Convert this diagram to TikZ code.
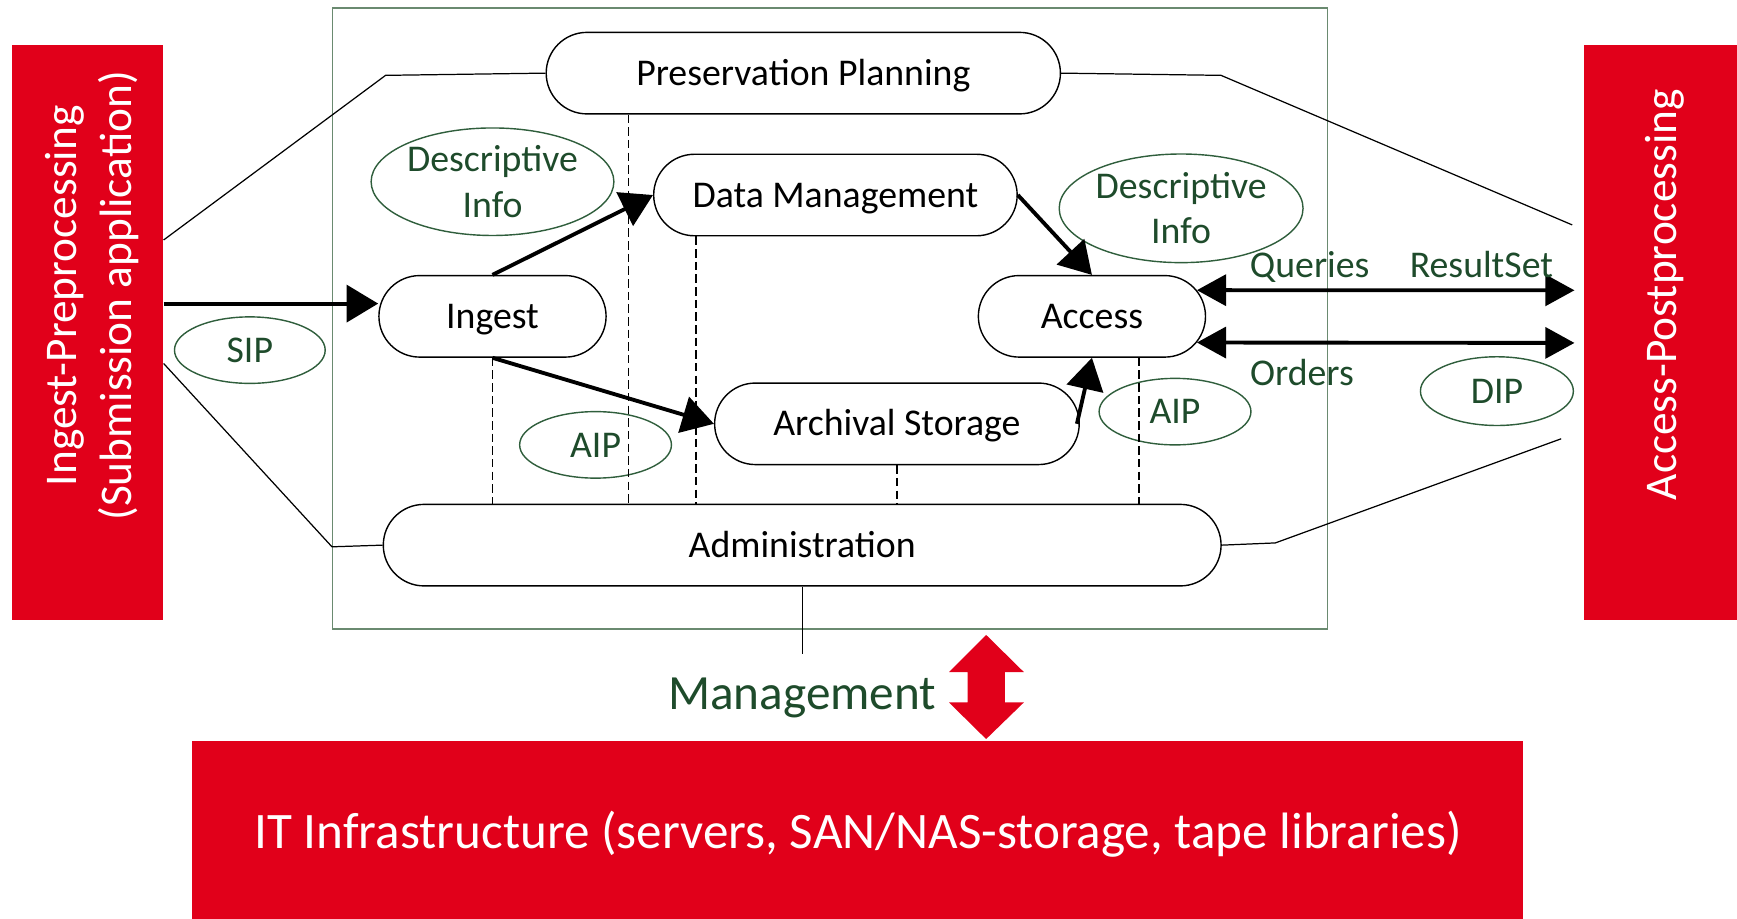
\documentclass[tikz,border=0pt]{standalone}
\usepackage{fontspec}
\setmainfont{Carlito}
\usetikzlibrary{arrows.meta,shapes.misc,shapes.geometric,calc}
\definecolor{rred}{HTML}{E1001A}
\definecolor{dgreen}{HTML}{1E4B2B}
\definecolor{egreen}{HTML}{2F5E3C}
\definecolor{fgreen}{HTML}{6A8A70}
\begin{document}
\begin{tikzpicture}[x=0.01108cm,y=-0.01108cm,
  box/.style={draw=black, line width=0.4pt, rounded rectangle, minimum height=0.815cm, inner sep=0pt, text height=6.9pt, text depth=0pt, font=\fontsize{10.75}{12.9}\selectfont},
  ell/.style={draw=egreen, line width=0.4pt, ellipse, inner sep=0pt},
  gtxt/.style={text=dgreen, align=center, inner sep=0pt, font=\fontsize{10.75}{12.9}\selectfont},
  gone/.style={gtxt, text height=6.9pt, text depth=0pt},
  arr/.style={line width=1.1pt, -{Triangle[length=9pt,width=10.5pt]}},
  darr/.style={line width=1.1pt, {Triangle[length=8.3pt,width=8.8pt]}-{Triangle[length=8.3pt,width=8.8pt]}},
  thinl/.style={line width=0.35pt},
  dsh/.style={line width=0.4pt, dash pattern=on 2.4pt off 1.2pt},
  redbox/.style={fill=rred, draw=none, inner sep=0pt},
  wtxt/.style={text=white, align=center, inner sep=0pt},
]
\useasboundingbox (0,0) rectangle (1567.7,829.4);

% red boxes
\node[redbox, minimum width=1.5135cm, minimum height=5.7505cm] (lbox) at (78.7,300.1) {};
\node[redbox, minimum width=1.54cm, minimum height=5.7505cm] (rbox) at (1499.5,300.1) {};
\node[redbox, minimum width=13.306cm, minimum height=1.85cm] (ibox) at (774.15,752.5) {};
\node[wtxt, rotate=90, font=\fontsize{12.9}{15.6}\selectfont] (ltxt) at (83,267) {Ingest-Preprocessing\\(Submission application)};
\node[wtxt, rotate=90, font=\fontsize{12.9}{15.6}\selectfont] (rtxt) at (1502.7,266) {Access-Postprocessing};
\node[wtxt, anchor=base, font=\fontsize{14.55}{17}\selectfont] (itxt) at (774.4,766) {IT Infrastructure (servers, SAN/NAS-storage, tape libraries)};

% outer frame
\draw[fgreen, line width=0.5pt] (300,7) rectangle (1198,568);

% ellipses
\node[ell, minimum width=2.427cm, minimum height=1.075cm] (dl) at (444.5,164) {};
\node[gtxt] (dlt) at (dl) {Descriptive\\Info};
\node[ell, minimum width=2.438cm, minimum height=1.086cm] (dr) at (1066,188) {};
\node[gtxt] (drt) at (dr) {Descriptive\\Info};
\node[ell, minimum width=1.507cm, minimum height=0.665cm] (sip) at (225.5,316) {};
\node[gone] (sipt) at (sip) {SIP};
\node[ell, minimum width=1.518cm, minimum height=0.665cm] (aipl) at (537.5,401.5) {};
\node[gone] (aiplt) at (aipl) {AIP};
\node[ell, minimum width=1.518cm, minimum height=0.665cm] (aipr) at (1060.5,371.5) {};
\node[gone] (aiprt) at (aipr) {AIP};
\node[ell, minimum width=1.529cm, minimum height=0.687cm] (dip) at (1351,353) {};
\node[gone] (dipt) at (dip) {DIP};

% function boxes
\node[box, minimum width=5.141cm] (pp) at (725,66) {Preservation Planning};
\node[box, minimum width=3.634cm] (dm) at (754,176) {Data Management};
\node[box, minimum width=2.271cm] (ing) at (444.5,285.5) {Ingest};
\node[box, minimum width=2.271cm] (acc) at (985.5,285.5) {Access};
\node[box, minimum width=3.645cm] (as) at (809.5,382.5) {Archival Storage};
\node[box, minimum width=8.376cm] (adm) at (724,492) {Administration};

% helper coordinates
\coordinate (d1) at (567,0);
\coordinate (d2) at (628,0);
\coordinate (d5) at (1028,0);
\coordinate (ly1) at (0,216.6);
\coordinate (ly2) at (0,328);
\coordinate (lc1) at (348,68);
\coordinate (lc2) at (299.6,493.5);
\coordinate (rc1) at (1102,68);
\coordinate (re1) at (1419,203);
\coordinate (rc2) at (1151,490);
\coordinate (re2) at (1409,396);
\coordinate (sipy) at (0,274);
\coordinate (q1) at (1421,262);
\coordinate (q2) at (1421,309.5);
\coordinate (mgE) at (724,590);

% dashed interfaces
\draw[dsh] (pp.south -| d1) -- (adm.north -| d1);
\draw[dsh] (dm.south -| d2) -- (adm.north -| d2);
\draw[dsh] (ing.south) -- (adm.north -| ing.south);
\draw[dsh] (as.south) -- (adm.north -| as.south);
\draw[dsh] (acc.south -| d5) -- (adm.north -| d5);

% thin side connectors
\draw[thinl] (lbox.east |- ly1) -- (lc1) -- (pp.west);
\draw[thinl] (lbox.east |- ly2) -- (lc2) -- (adm.west);
\draw[thinl] (pp.east) -- (rc1) -- (re1);
\draw[thinl] (adm.east) -- (rc2) -- (re2);
\draw[thinl] (adm.south) -- (mgE);

% flow arrows
\draw[arr] (lbox.east |- sipy) -- (ing.west |- sipy);
\draw[arr] (ing.north) -- (dm.west);
\draw[arr] (ing.south) -- (as.west);
\draw[arr] (dm.east) -- (acc.north);
\draw[arr] ([xshift=-0.03cm]as.east) -- (acc.south);
\draw[darr] (acc.14) -- (q1);
\draw[darr] (acc.-14) -- (q2);

% labels
\node[gtxt, anchor=base] (lq) at (1182,250) {Queries};
\node[gtxt, anchor=base] (lr) at (1337,250) {ResultSet};
\node[gtxt, anchor=base] (lo) at (1175,347.5) {Orders};
\node[gtxt, anchor=base, font=\fontsize{14}{17}\selectfont] (mg) at (724,640) {Management};

% management double arrow
\fill[rred] (890,573) -- (924,606.5) -- (907,606.5) -- (907,634) -- (924,634) -- (890,667)
  -- (856.5,634) -- (873.4,634) -- (873.4,606.5) -- (856.5,606.5) -- cycle;
\end{tikzpicture}
\end{document}
